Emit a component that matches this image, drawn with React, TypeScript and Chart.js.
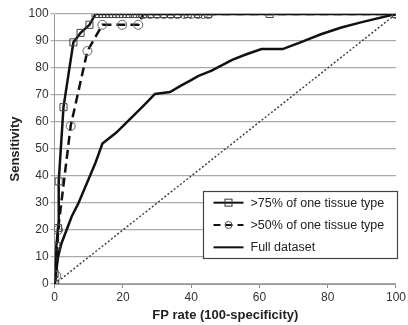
import React, { useEffect, useRef } from "react";
import { Chart, registerables } from "chart.js";

Chart.register(...registerables);

// >75% of one tissue type (squares)
const sq75X = [0, 0, 0.5, 1, 1.2, 2.6, 5.5, 7.6, 10.2, 12, 13, 14, 15, 16, 17, 18, 19, 20, 21, 22, 23.5, 25, 26.5, 28, 30, 32, 34, 36, 39, 42, 45, 63, 100];
const sq75Y = [0, 3.7, 14, 20.7, 38, 65.5, 89.5, 93, 96, 100, 100, 100, 100, 100, 100, 100, 100, 100, 100, 100, 100, 100, 100, 100, 100, 100, 100, 100, 100, 100, 100, 100, 100];

// >50% of one tissue type (circles)
const c50X = [0, 0.5, 1, 4.7, 9.6, 14, 19.8, 24.5, 26, 28, 30, 32, 34, 36, 38, 40, 42, 43.5, 45, 100];
const c50Y = [0, 3, 20, 58.5, 86.3, 96, 96, 96, 100, 100, 100, 100, 100, 100, 100, 100, 100, 100, 100, 100];

// Full dataset
const fullX = [0, 0.5, 1, 2, 3.5, 5, 7, 10, 12, 14, 18, 22, 26, 29.4, 33.8, 37, 40, 42, 44, 46, 52, 56, 60.6, 66.8, 72, 78, 84, 90, 100];
const fullY = [0, 5, 10, 15, 20, 25, 30, 39, 45, 52, 56, 61, 66, 70.4, 71.1, 73.5, 75.5, 77, 78, 79, 83, 85, 87, 87, 89.5, 92.5, 95, 97, 100];

// Reference diagonal
const diagX = [0, 100];
const diagY = [0, 100];

const xTicks = [0, 20, 40, 60, 80, 100];
const yTicks = [0, 10, 20, 30, 40, 50, 60, 70, 80, 90, 100];

const legendLabels = [">75% of one tissue type", ">50% of one tissue type", "Full dataset"];
const xTitle = "FP rate (100-specificity)";
const yTitle = "Sensitivity";

const zip = (xs: number[], ys: number[]) => xs.map((x, i) => ({ x, y: ys[i] }));

const FONT = "'Liberation Sans', Arial, sans-serif";

const legendPlugin = {
  id: "boxLegend",
  afterDraw(chart: any) {
    const { ctx, scales } = chart;
    const xs = scales.x;
    const ys = scales.y;
    const left = Math.round(xs.getPixelForValue(43.4)) + 0.5;
    const right = Math.round(xs.getPixelForValue(100.3)) + 0.5;
    const top = Math.round(ys.getPixelForValue(34.4)) + 0.5;
    const bottom = Math.round(ys.getPixelForValue(9.6)) + 0.5;
    ctx.save();
    ctx.fillStyle = "#ffffff";
    ctx.fillRect(left, top, right - left, bottom - top);
    ctx.strokeStyle = "#444";
    ctx.lineWidth = 1.2;
    ctx.strokeRect(left, top, right - left, bottom - top);
    const rowH = (bottom - top) / 3;
    const lx0 = left + 10;
    const lx1 = left + 40;
    ctx.font = `12.5px ${FONT}`;
    ctx.textBaseline = "middle";
    for (let i = 0; i < 3; i++) {
      const cy = top + rowH * (i + 0.5);
      ctx.strokeStyle = "#111";
      ctx.lineWidth = 2;
      ctx.setLineDash(i === 1 ? [7, 5] : []);
      ctx.beginPath();
      ctx.moveTo(lx0, cy);
      ctx.lineTo(lx1, cy);
      ctx.stroke();
      ctx.setLineDash([]);
      const mx = (lx0 + lx1) / 2;
      if (i === 0) {
        ctx.strokeStyle = "#333";
        ctx.lineWidth = 1;
        ctx.strokeRect(mx - 3.5, cy - 3.5, 7, 7);
      } else if (i === 1) {
        ctx.strokeStyle = "#555";
        ctx.lineWidth = 1;
        ctx.beginPath();
        ctx.arc(mx, cy, 3.5, 0, Math.PI * 2);
        ctx.stroke();
      }
      ctx.fillStyle = "#222";
      ctx.fillText(legendLabels[i], lx1 + 7, cy + 0.5);
    }
    ctx.restore();
  },
};

export default function App() {
  const ref = useRef<HTMLCanvasElement | null>(null);
  useEffect(() => {
    if (!ref.current) return;
    const chart = new Chart(ref.current, {
      type: "scatter",
      data: {
        datasets: [
          {
            label: legendLabels[0],
            data: zip(sq75X, sq75Y),
            showLine: true,
            borderColor: "#111",
            borderWidth: 2.5,
            pointStyle: "rect",
            pointRadius: 5,
            pointBorderColor: "#444",
            pointBorderWidth: 1,
            pointBackgroundColor: "rgba(255,255,255,0)",
          },
          {
            label: legendLabels[1],
            data: zip(c50X, c50Y),
            showLine: true,
            borderColor: "#111",
            borderWidth: 2.5,
            borderDash: [9, 5],
            pointStyle: "circle",
            pointRadius: 4.5,
            pointBorderColor: "#666",
            pointBorderWidth: 1,
            pointBackgroundColor: "rgba(255,255,255,0)",
          },
          {
            label: legendLabels[2],
            data: zip(fullX, fullY),
            showLine: true,
            borderColor: "#111",
            borderWidth: 2.5,
            pointRadius: 0,
          },
          {
            label: "diagonal",
            data: zip(diagX, diagY),
            showLine: true,
            borderColor: "#444",
            borderWidth: 1.5,
            borderDash: [2, 2],
            pointRadius: 0,
          },
        ],
      },
      options: {
        animation: false,
        responsive: true,
        maintainAspectRatio: false,
        layout: { padding: { top: 14, right: 6, left: 8, bottom: 2 } },
        plugins: {
          legend: { display: false },
          tooltip: { enabled: false },
        },
        scales: {
          x: {
            type: "linear",
            min: 0,
            max: 100,
            afterBuildTicks: (axis: any) => {
              axis.ticks = xTicks.map((v) => ({ value: v }));
            },
            grid: {
              drawOnChartArea: false,
              drawTicks: true,
              tickLength: 4,
              color: "#888",
            },
            border: { color: "#999", width: 1 },
            ticks: { color: "#333", font: { family: FONT, size: 12 }, padding: 2 },
            title: {
              display: true,
              text: xTitle,
              color: "#222",
              font: { family: FONT, size: 13, weight: "bold" },
              padding: { top: 1, bottom: 0 },
            },
          },
          y: {
            type: "linear",
            min: 0,
            max: 100,
            afterBuildTicks: (axis: any) => {
              axis.ticks = yTicks.map((v) => ({ value: v }));
            },
            grid: {
              color: "#aaa",
              lineWidth: 1.2,
              drawTicks: true,
              tickLength: 4,
            },
            border: { color: "#999", width: 1 },
            ticks: { color: "#333", font: { family: FONT, size: 12 }, padding: 2 },
            title: {
              display: true,
              text: yTitle,
              color: "#222",
              font: { family: FONT, size: 13, weight: "bold" },
              padding: { top: 0, bottom: 3 },
            },
          },
        },
      },
      plugins: [legendPlugin],
    } as any);
    return () => chart.destroy();
  }, []);
  return (
    <div style={{ position: "absolute", left: 0, top: 0, width: 408, height: 325, background: "#fff" }}>
      <canvas ref={ref} />
    </div>
  );
}
